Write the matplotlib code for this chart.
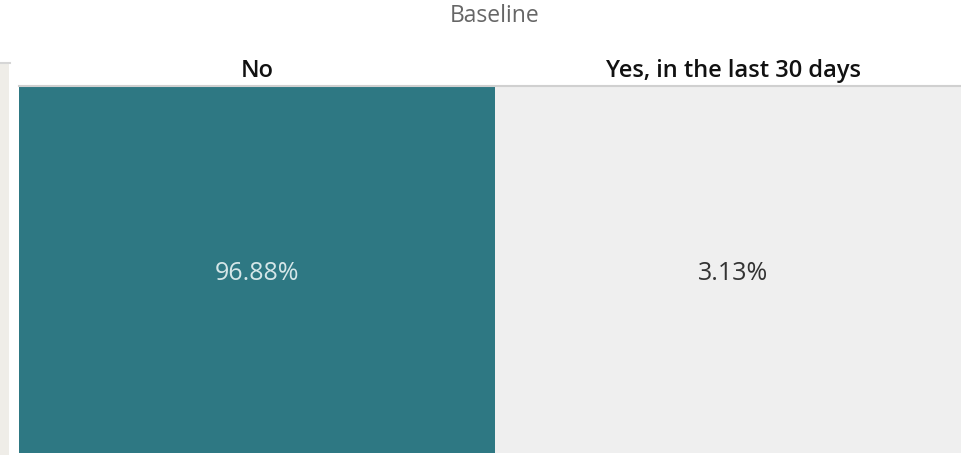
import matplotlib
matplotlib.use("Agg")
import matplotlib.pyplot as plt
from matplotlib.colors import LinearSegmentedColormap, Normalize
from matplotlib.patches import Rectangle

title = "Baseline"
categories = ["No", "Yes, in the last 30 days"]
values = [96.88, 3.13]
labels = ["96.88%", "3.13%"]

plt.rcParams['font.family'] = ['Open Sans', 'DejaVu Sans']

W, H = 961, 455
fig = plt.figure(figsize=(W / 100, H / 100), dpi=100)
fig.patch.set_facecolor("white")

# left beige strip
fig.patches.append(Rectangle((0, 0), 9 / W, (H - 63) / H, transform=fig.transFigure,
                             facecolor="#efede8", edgecolor="none"))
fig.add_artist(plt.Line2D([0, 10 / W], [(H - 63) / H] * 2, transform=fig.transFigure,
                          color="#d6d6d6", lw=1.5))

col_w = 476
ax = fig.add_axes([19 / W, 2 / H, col_w * len(categories) / W, (H - 86 - 2) / H])
cmap = LinearSegmentedColormap.from_list("tc", ["#efefef", "#2e7883"])
norm = Normalize(vmin=min(values), vmax=max(values))
x = range(len(categories))
ax.bar(x, [1] * len(values), width=1.0, bottom=0, align="edge",
       color=[cmap(norm(v)) for v in values], edgecolor="none")
ax.set_xlim(0, len(categories))
ax.set_ylim(0, 1)
for i, (v, lab) in enumerate(zip(values, labels)):
    col = "#d5e6e8" if norm(v) > 0.5 else "#333333"
    ax.text(i + 0.5, 0.489, lab, ha="center", va="center", fontsize=18, color=col)
ax.set_xticks([i + 0.5 for i in x])
ax.set_xticklabels(categories, fontsize=17, fontweight="semibold", color="#111111")
ax.xaxis.tick_top()
ax.tick_params(axis="x", length=0, pad=2)
ax.set_yticks([])
for s in ["left", "right", "bottom"]:
    ax.spines[s].set_visible(False)
ax.spines["top"].set_color("#d0d0d0")
ax.spines["top"].set_linewidth(1.5)

fig.text(495 / W, 1 - 16 / H, title, ha="center", va="center", fontsize=16.5, color="#666666")

fig.savefig("out.png", dpi=100)
